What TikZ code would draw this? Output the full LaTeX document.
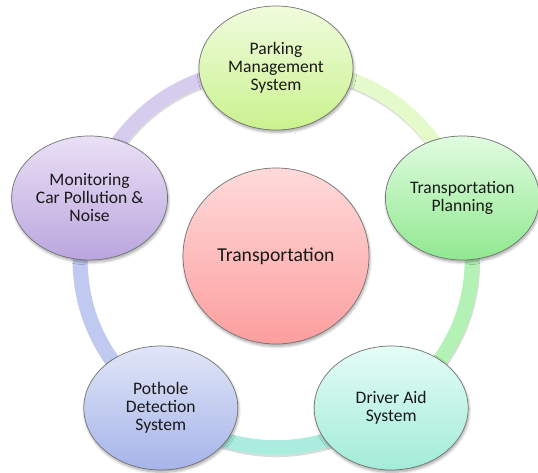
\documentclass[tikz,border=0pt]{standalone}
\usepackage{fontspec}
\setmainfont{Carlito}
\usepackage{xcolor}
\definecolor{hubtop}{RGB}{255,218,218}
\definecolor{hubbot}{RGB}{252,158,158}
\definecolor{parktop}{RGB}{240,252,222}
\definecolor{parkbot}{RGB}{202,242,142}
\definecolor{plantop}{RGB}{224,252,224}
\definecolor{planbot}{RGB}{144,232,144}
\definecolor{aidtop}{RGB}{228,252,246}
\definecolor{aidbot}{RGB}{162,236,216}
\definecolor{pottop}{RGB}{224,230,248}
\definecolor{potbot}{RGB}{166,180,232}
\definecolor{montop}{RGB}{234,224,246}
\definecolor{monbot}{RGB}{186,166,222}
\definecolor{segA}{RGB}{228,250,202}
\definecolor{segB}{RGB}{180,241,180}
\definecolor{segC}{RGB}{170,236,222}
\definecolor{segD}{RGB}{192,202,240}
\definecolor{segE}{RGB}{214,204,238}
\usetikzlibrary{shapes.geometric,shadows.blur,backgrounds}

\begin{document}
\begin{tikzpicture}[
  outer/.style={ellipse, draw=black!55, line width=0.5pt, minimum width=3.85cm, minimum height=3.1cm, inner sep=1pt, align=center, text=black!90, font=\fontsize{12.5}{12.8}\selectfont, blur shadow={shadow xshift=0.6pt, shadow yshift=-1.6pt, shadow opacity=35, shadow blur steps=6}},
  ring/.style={line width=10.5pt, bend left=36}]
  \useasboundingbox (0,0) rectangle (13.45,11.8);

  %% Hub
  \node[outer, minimum width=4.65cm, minimum height=4.4cm, top color=hubtop, bottom color=hubbot, font=\fontsize{14}{16}\selectfont] (hub) at (6.9,5.4) {Transportation};

  %% Outer nodes
  \node[outer, top color=parktop, bottom color=parkbot] (park)    at (6.90,10.10) {Parking\\Management\\System};
  \node[outer, top color=plantop, bottom color=planbot] (plan)    at (11.56,6.85) {Transportation\\Planning};
  \node[outer, top color=aidtop,  bottom color=aidbot]  (aid)     at (9.78,1.60)  {Driver Aid\\System};
  \node[outer, top color=pottop,  bottom color=potbot]  (pothole) at (4.02,1.60)  {Pothole\\Detection\\System};
  \node[outer, top color=montop,  bottom color=monbot]  (monitor) at (2.24,6.85)  {Monitoring\\Car Pollution \&\\Noise};

  %% Ring behind the outer nodes
  \begin{scope}[on background layer]
    \foreach \from/\to/\col in {park/plan/segA, plan/aid/segB, aid/pothole/segC, pothole/monitor/segD, monitor/park/segE}{
      \draw[ring, black!14, transform canvas={xshift=0.5pt, yshift=-1.5pt}] (\from.center) to (\to.center);
      \draw[ring, \col] (\from.center) to (\to.center);
    }
  \end{scope}
\end{tikzpicture}
\end{document}
